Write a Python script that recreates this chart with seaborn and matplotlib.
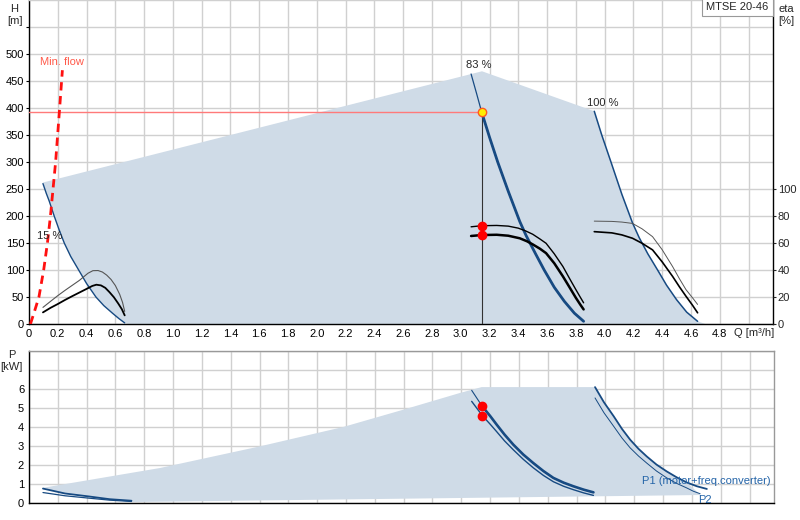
import numpy as np
import pandas as pd
import matplotlib
matplotlib.use("Agg")
import matplotlib.pyplot as plt
import seaborn as sns

# ---- data ----
# head curves H [m] vs Q [m3/h]
q_15 = [0.097, 0.12, 0.14, 0.175, 0.21, 0.245, 0.29, 0.345, 0.40, 0.465, 0.52, 0.58, 0.625, 0.665]
h_15 = [260, 242, 228, 200, 174, 150, 125, 100, 75, 50, 34, 20, 10, 2]
q_83 = [3.072, 3.11, 3.146, 3.2, 3.257, 3.33, 3.41, 3.454, 3.52, 3.58, 3.65, 3.72, 3.79, 3.854]
h_83 = [463, 427, 392, 346, 300, 246, 190, 164, 130, 100, 68, 42, 20, 5]
q_100 = [3.928, 3.98, 4.044, 4.12, 4.194, 4.24, 4.30, 4.368, 4.43, 4.50, 4.57, 4.646]
h_100 = [394, 350, 300, 240, 187, 160, 130, 100, 72, 45, 22, 5]

# minimum flow line
q_min = [0.01, 0.04, 0.069, 0.102, 0.128, 0.149, 0.167, 0.185, 0.199, 0.213, 0.232]
h_min = [0, 25, 50, 100, 150, 200, 250, 300, 350, 400, 470]

# operating range (head)
area_h_q = [0.097, 3.148, 3.928, 3.98, 4.044, 4.12, 4.194, 4.24, 4.30, 4.368, 4.43, 4.50,
            4.57, 4.646, 4.70, 0.687, 0.665, 0.625, 0.58, 0.52, 0.465, 0.40, 0.345,
            0.29, 0.245, 0.21, 0.175, 0.14, 0.12]
area_h_h = [262, 468, 394, 350, 300, 240, 187, 160, 130, 100, 72, 45,
            22, 5, 0, 0, 2, 10, 20, 34, 50, 75, 100,
            125, 150, 174, 200, 228, 242]

# efficiency curves eta [%]
q_eta15_a = [0.097, 0.15, 0.2, 0.25, 0.3, 0.35, 0.41, 0.444, 0.48, 0.51, 0.54, 0.57, 0.60, 0.63, 0.65, 0.665]
eta15_a = [12.3, 16.8, 21.0, 24.9, 28.6, 32.3, 37.6, 39.5, 39.6, 38.5, 36.2, 33.0, 28.5, 22.0, 16.0, 9.3]
q_eta15_b = [0.097, 0.15, 0.2, 0.25, 0.3, 0.35, 0.4, 0.44, 0.468, 0.50, 0.53, 0.56, 0.59, 0.62, 0.645, 0.665]
eta15_b = [8.6, 12.0, 14.8, 17.8, 20.6, 23.3, 26.0, 28.2, 29.1, 28.6, 26.8, 23.5, 19.8, 15.2, 11.0, 6.4]
q_eta83_a = [3.072, 3.146, 3.25, 3.33, 3.40, 3.45, 3.50, 3.55, 3.593, 3.65, 3.71, 3.76, 3.80, 3.83, 3.854]
eta83_a = [72.0, 72.8, 73.0, 72.5, 71.0, 69.0, 66.5, 63.0, 59.8, 52.0, 42.6, 33.0, 25.5, 20.0, 15.7]
q_eta83_b = [3.072, 3.146, 3.25, 3.33, 3.41, 3.46, 3.50, 3.55, 3.593, 3.65, 3.71, 3.76, 3.80, 3.83, 3.854]
eta83_b = [65.2, 65.9, 66.1, 65.4, 63.5, 61.3, 59.0, 55.8, 52.5, 45.0, 35.3, 26.5, 19.4, 14.5, 10.8]
q_eta100 = [3.928, 4.05, 4.12, 4.194, 4.26, 4.333, 4.40, 4.472, 4.52, 4.565, 4.61, 4.646]
eta100_a = [76.2, 76.0, 75.5, 74.5, 70.5, 64.7, 55.0, 42.6, 33.5, 25.5, 19.5, 14.5]
eta100_b = [68.4, 67.5, 66.0, 63.5, 59.8, 54.9, 46.0, 35.3, 27.5, 20.6, 14.0, 8.3]

# power curves P [kW]
q_p15 = [0.097, 0.25, 0.41, 0.56, 0.711]
p1_15 = [0.76, 0.50, 0.35, 0.20, 0.12]
p2_15 = [0.55, 0.38, 0.26, 0.15, 0.08]
q_p83 = [3.072, 3.146, 3.2, 3.246, 3.30, 3.361, 3.43, 3.5, 3.57, 3.639, 3.71, 3.778, 3.85, 3.917]
p1_83 = [5.93, 5.08, 4.58, 4.12, 3.60, 3.07, 2.55, 2.10, 1.68, 1.32, 1.07, 0.88, 0.70, 0.56]
p2_83 = [5.35, 4.60, 4.15, 3.75, 3.27, 2.80, 2.30, 1.85, 1.45, 1.12, 0.88, 0.70, 0.53, 0.40]
q_p100_1 = [3.928, 3.99, 4.058, 4.115, 4.172, 4.23, 4.287, 4.355, 4.426, 4.495, 4.565, 4.635, 4.704]
p1_100 = [6.10, 5.30, 4.56, 3.90, 3.33, 2.85, 2.45, 2.02, 1.66, 1.35, 1.08, 0.88, 0.74]
q_p100_2 = [3.928, 3.99, 4.058, 4.115, 4.172, 4.23, 4.287, 4.355, 4.426, 4.495, 4.565, 4.61, 4.657]
p2_100 = [5.53, 4.75, 4.03, 3.42, 2.90, 2.47, 2.10, 1.68, 1.32, 1.03, 0.79, 0.62, 0.49]

# operating range (power)
area_p_q = [0.097, 0.908, 1.602, 2.18, 2.597, 2.99, 3.141, 3.928, 3.99, 4.058, 4.115, 4.172,
            4.23, 4.287, 4.355, 4.426, 4.495, 4.565, 4.66, 0.711, 0.56, 0.41, 0.25]
area_p_p = [0.80, 1.84, 2.98, 4.0, 4.91, 5.79, 6.10, 6.10, 5.30, 4.56, 3.90, 3.33,
            2.85, 2.45, 2.02, 1.66, 1.35, 1.08, 0.42, 0.05, 0.20, 0.35, 0.50]

# duty point
duty_q = 3.146
duty_h = 392
duty_eta = [72.8, 65.9]
duty_p = [5.08, 4.60]

x_ticks = [round(0.2 * i, 1) for i in range(26)]
h_ticks = list(range(0, 551, 50))
eta_ticks = list(range(0, 101, 20))
p_ticks = list(range(0, 9))

# ---- style ----
sns.set_theme(style="whitegrid")
plt.rcParams['font.family'] = ['Liberation Sans', 'DejaVu Sans']
plt.rcParams['font.size'] = 8

AREA = '#cfdbe7'
BLUE = '#174a82'
GRID = '#d0d0d0'

fig = plt.figure(figsize=(8, 5.2), dpi=100)
ax = fig.add_axes([29 / 800, 1 - 324 / 520, 744 / 800, 324 / 520])
ax2 = ax.twinx()
axp = fig.add_axes([29 / 800, 1 - 503 / 520, 745 / 800, 152 / 520])


def style_axes(a):
    a.set_facecolor('white')
    a.grid(True, color=GRID, lw=1.0)
    a.tick_params(axis='both', which='both', direction='out', length=2.5,
                  width=0.8, color='black', labelsize=8, pad=1,
                  labelcolor='black')
    for s in a.spines.values():
        s.set_visible(True)
        s.set_linewidth(1.0)


def curve(a, qs, vals, color, lw, z=4):
    sns.lineplot(x=qs, y=vals, ax=a, color=color, lw=lw, sort=False,
                 estimator=None, zorder=z)


# ---- top chart: head ----
style_axes(ax)
ax.set_xlim(0, 5.17)
ax.set_ylim(0, 600)
ax.set_xticks(x_ticks)
ax.set_xticklabels([f"{t:.1f}" if t not in (0, 5.0) else ("0" if t == 0 else "")
                    for t in x_ticks])
ax.set_yticks(h_ticks)
ax.set_yticklabels([str(t) if t <= 500 else "" for t in h_ticks])
ax.spines['left'].set_color('black')
ax.spines['bottom'].set_color('black')
ax.spines['right'].set_color('black')
ax.spines['top'].set_color(GRID)

ax.fill(area_h_q, area_h_h, color=AREA, lw=0, zorder=1)

# duty lines
ax.plot([0, duty_q], [duty_h, duty_h], color='#ff7a7a', lw=1.0, zorder=3)
ax.plot([duty_q, duty_q], [0, duty_h], color='#333333', lw=0.8, zorder=3)

curve(ax, q_15, h_15, BLUE, 1.0)
curve(ax, q_83, h_83, BLUE, 0.9)
curve(ax, q_83[2:], h_83[2:], BLUE, 2.0)
curve(ax, q_100, h_100, BLUE, 1.1)
curve(ax, q_min, h_min, '#ff1010', 2.0)
ax.lines[-1].set_dashes([3, 2])

ax.plot(duty_q, duty_h, 'o', ms=6, mfc='#ffee00', mec='#ff5a20', mew=1.0, zorder=6)

ax.text(0.228, 486, "Min. flow", color='#ff5a4a', ha='center', va='center', fontsize=8)
ax.text(0.144, 163, "15 %", ha='center', va='center', fontsize=8, zorder=5)
ax.text(3.126, 479, "83 %", ha='center', va='center', fontsize=8)
ax.text(3.99, 409, "100 %", ha='center', va='center', fontsize=8)
ax.text(5.04, -17, "Q [m³/h]", ha='center', va='center', fontsize=8, clip_on=False)
ax.text(-0.1, 573, "H\n[m]", ha='center', va='center', fontsize=8,
        linespacing=1.25, clip_on=False)
ax.text(0.994, 0.994, "MTSE 20-46", transform=ax.transAxes, ha='right', va='top',
        fontsize=8, zorder=10,
        bbox=dict(boxstyle='square,pad=0.4', fc='white', ec='#999999', lw=0.8))

# ---- efficiency on right axis ----
ax2.set_ylim(0, 240)
ax2.set_yticks(eta_ticks)
ax2.grid(False)
ax2.tick_params(axis='y', direction='out', length=2.5, width=0.8, labelsize=8, pad=1)
for s in ax2.spines.values():
    s.set_visible(False)
curve(ax2, q_eta15_a, eta15_a, '#555555', 0.8)
curve(ax2, q_eta15_b, eta15_b, 'black', 1.3)
curve(ax2, q_eta83_a, eta83_a, 'black', 1.0)
curve(ax2, q_eta83_b, eta83_b, 'black', 1.8)
curve(ax2, q_eta100, eta100_a, '#555555', 0.7)
curve(ax2, q_eta100, eta100_b, 'black', 1.2)
ax2.plot([duty_q] * 2, duty_eta, 'o', ms=6, color='#ff0000', zorder=6)
ax2.text(5.26, 229, "eta\n[%]", ha='center', va='center', fontsize=8,
         linespacing=1.25, clip_on=False)
ax2.set_xlim(0, 5.17)

# ---- bottom chart: power ----
style_axes(axp)
axp.set_xlim(0, 5.17)
axp.set_ylim(0, 8)
axp.set_xticks(x_ticks)
axp.set_xticklabels([])
axp.tick_params(axis='x', length=0)
axp.set_yticks(p_ticks)
axp.set_yticklabels([str(t) if t <= 6 else "" for t in p_ticks])
axp.spines['left'].set_color('black')
axp.spines['bottom'].set_color('black')
axp.spines['top'].set_color('#999999')
axp.spines['right'].set_color('#999999')

axp.fill(area_p_q, area_p_p, color=AREA, lw=0, zorder=1)

curve(axp, q_p15, p1_15, BLUE, 1.3)
curve(axp, q_p15, p2_15, BLUE, 0.9)
curve(axp, q_p83, p1_83, BLUE, 0.8)
curve(axp, q_p83[1:], p1_83[1:], BLUE, 1.9)
curve(axp, q_p83, p2_83, BLUE, 1.0)
curve(axp, q_p100_1, p1_100, BLUE, 1.3)
curve(axp, q_p100_2, p2_100, BLUE, 0.7)
axp.plot([duty_q] * 2, duty_p, 'o', ms=6, color='#ff0000', zorder=6)

axp.text(4.70, 1.17, "P1 (motor+freq.converter)", color='#2464a8', ha='center',
         va='center', fontsize=8, zorder=5)
axp.text(4.69, 0.14, "P2", color='#2464a8', ha='center', va='center', fontsize=8, zorder=5)
axp.text(-0.12, 7.45, "P\n[kW]", ha='center', va='center', fontsize=8,
         linespacing=1.25, clip_on=False)

fig.savefig("out.png", dpi=100, facecolor='white')
